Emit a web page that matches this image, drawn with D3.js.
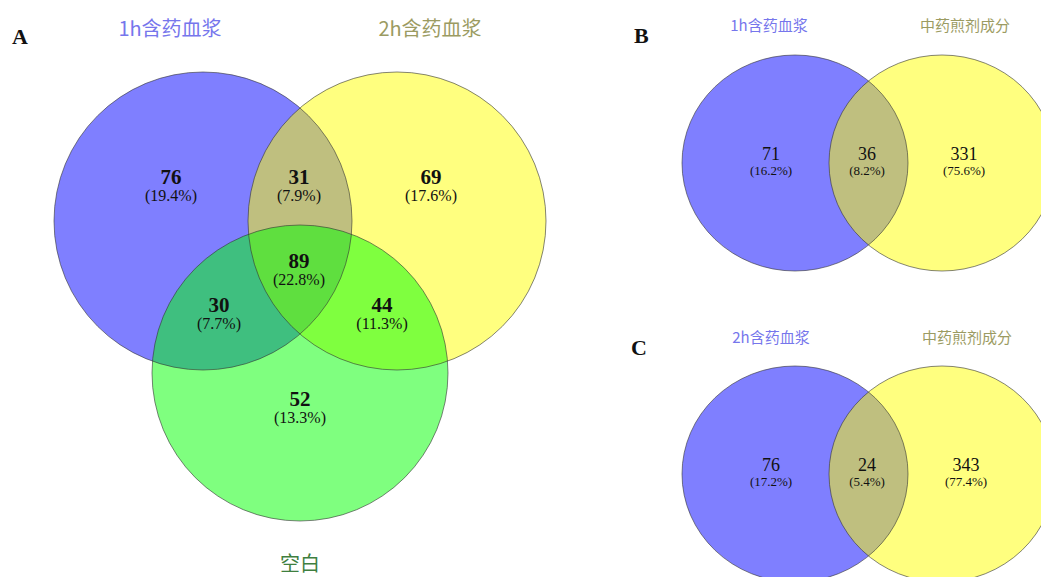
<!DOCTYPE html>
<html><head><meta charset="utf-8">
<script src="https://cdn.jsdelivr.net/npm/d3@7"></script>
<style>body{margin:0;background:#fff}</style>
</head><body>
<svg id="c" width="1041" height="577"></svg>
<script>
// ---- data ----
const setsA = ["1h含药血浆", "2h含药血浆", "空白"];
const regionsA = ["1h", "1h∩2h", "2h", "1h∩2h∩空白", "1h∩空白", "2h∩空白", "空白"];
const countsA = [76, 31, 69, 89, 30, 44, 52];
const setsB = ["1h含药血浆", "中药煎剂成分"];
const countsB = [71, 36, 331];
const setsC = ["2h含药血浆", "中药煎剂成分"];
const countsC = [76, 24, 343];
const panelLetters = ["A", "B", "C"];

const svg = d3.select("#c");
const fills = ["#0000ff", "#ffff00", "#00ff00"];
const labelColors = ["#7676ec", "#9b9b62", "#3f7f3f"];
const pct = d3.format(".1%");

function drawCircles(g, circles) {
  g.selectAll("ellipse.f").data(circles).join("ellipse").attr("class","f")
    .attr("cx", d => d.cx).attr("cy", d => d.cy).attr("rx", d => d.rx).attr("ry", d => d.ry)
    .attr("fill", (d,i) => fills[i]).attr("fill-opacity", 0.5);
  g.selectAll("ellipse.s").data(circles).join("ellipse").attr("class","s")
    .attr("cx", d => d.cx).attr("cy", d => d.cy).attr("rx", d => d.rx).attr("ry", d => d.ry)
    .attr("fill", "none").attr("stroke", "#333").attr("stroke-opacity", 0.6).attr("stroke-width", 1);
}
function drawCounts(g, counts, pos, nSize, nWeight, pSize, gap) {
  const total = d3.sum(counts);
  const t = g.selectAll("g.cnt").data(counts).join("g").attr("class","cnt")
    .attr("transform", (d,i) => `translate(${pos[i][0]},${pos[i][1]})`);
  t.append("text").attr("text-anchor","middle").attr("font-family","Liberation Serif, serif")
    .attr("font-weight", nWeight).attr("font-size", nSize).attr("fill","#111").text(d => d);
  t.append("text").attr("text-anchor","middle").attr("font-family","Liberation Serif, serif")
    .attr("font-size", pSize).attr("y", gap).attr("fill","#111")
    .text(d => "(" + pct(d / total) + ")");
}
function letter(x, y, s) {
  svg.append("text").attr("x", x).attr("y", y).attr("font-family","Liberation Serif, serif")
    .attr("font-weight","bold").attr("font-size", 22).attr("fill","#111").text(s);
}
function label(x, y, s, col, size) {
  svg.append("text").attr("x", x).attr("y", y).attr("text-anchor","middle")
    .attr("font-family","Noto Sans CJK SC, sans-serif").attr("font-size", size)
    .attr("fill", col).text(s);
}

// ---- Panel A ----
const gA = svg.append("g");
drawCircles(gA, [
  {cx:203, cy:221, rx:149, ry:149},
  {cx:397, cy:221, rx:149, ry:149},
  {cx:300, cy:373, rx:148, ry:148}
]);
drawCounts(gA, countsA,
  [[171,184],[299,184],[431,184],[299,268],[219,312],[382,312],[300,406]], 21, "bold", 16, 17);
letter(12, 44, panelLetters[0]);
label(170, 36, setsA[0], labelColors[0], 20);
label(430, 36, setsA[1], labelColors[1], 20);
label(300, 571, setsA[2], labelColors[2], 20);

// ---- Panel B ----
const gB = svg.append("g");
drawCircles(gB, [
  {cx:795, cy:163, rx:113, ry:108},
  {cx:942, cy:163, rx:113, ry:108}
]);
drawCounts(gB, countsB, [[771,160],[867,160],[964,160]], 18, "normal", 13, 15);
letter(634, 43, panelLetters[1]);
label(769, 31, setsB[0], labelColors[0], 15);
label(965, 31, setsB[1], labelColors[1], 15);

// ---- Panel C ----
const gC = svg.append("g");
drawCircles(gC, [
  {cx:795, cy:474, rx:113, ry:108},
  {cx:942, cy:474, rx:113, ry:108}
]);
drawCounts(gC, countsC, [[771,471],[867,471],[966,471]], 18, "normal", 13, 15);
letter(631, 355, panelLetters[2]);
label(771, 343, setsC[0], labelColors[0], 15);
label(967, 343, setsC[1], labelColors[1], 15);
</script>
</body></html>
